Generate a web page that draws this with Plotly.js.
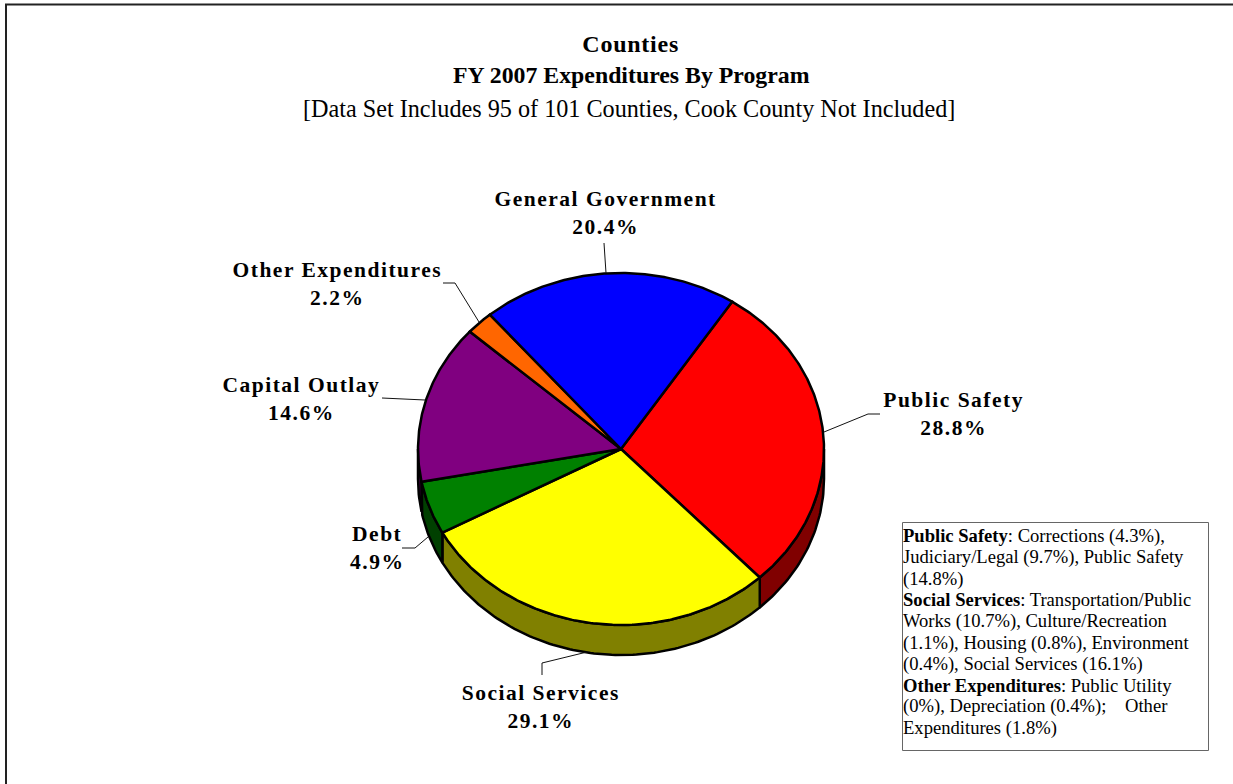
<!DOCTYPE html>
<html><head><meta charset="utf-8">
<script src="https://cdn.plot.ly/plotly-3.0.1.min.js"></script>
<style>
html,body{margin:0;padding:0;background:#fff;overflow:hidden}
g.annotation[data-index="0"] text,g.annotation[data-index="1"] text,g.annotation[data-index="2"] text,
g.annotation[data-index="3"] text,g.annotation[data-index="4"] text,g.annotation[data-index="5"] text{letter-spacing:1.5px}
.gtitle{letter-spacing:.75px}
</style></head><body>
<div id="chart" style="width:1233px;height:784px"></div>
<script>
const categories=["Public Safety","Social Services","Debt","Capital Outlay","Other Expenditures","General Government"];
const values=[28.8,29.1,4.9,14.6,2.2,20.4];
const topColors=["#ff0000","#ffff00","#008000","#800080","#ff6600","#0000ff"];
const sideColors=["#800000","#808000","#004000","#400040","#803300","#000080"];
const startAngle=33.2;
const cx=621,cy=449,rx=203,ry=176,depth=30;
const labelX=[953.5,541,377,301,337.5,605.5];
const labelY=[413.5,706.5,548,398.5,284,213];
const leaderX=[[824,868,880],[587,542,542],[428,415,402],[425,393,382],[479,455,443],[606,604]];
const leaderY=[[432,414,414],[652,663,675],[537,548,548],[400,398,398],[322,283,283],[273,243]];
const noteLines=[
"<b>Public Safety</b>: Corrections (4.3%),","Judiciary/Legal (9.7%), Public Safety","(14.8%)",
"<b>Social Services</b>: Transportation/Public","Works (10.7%), Culture/Recreation","(1.1%), Housing (0.8%), Environment","(0.4%), Social Services (16.1%)",
"<b>Other Expenditures</b>: Public Utility","(0%), Depreciation (0.4%);\u00a0\u00a0\u00a0\u00a0Other","Expenditures (1.8%)"];

function px(a){return cx+rx*Math.sin(a*Math.PI/180)}
function py(a){return cy-ry*Math.cos(a*Math.PI/180)}
const total=values.reduce((s,v)=>s+v,0);
const traces=[];
const outline={color:"#000",width:2.5};
let a=startAngle;
const spans=values.map(v=>{const s=[a,a+v/total*360];a=s[1];return s;});
// side wall: only the part of the rim between 90 and 270 degrees faces the viewer
spans.forEach((s,i)=>{
  [[s[0],s[1]],[s[0]-360,s[1]-360]].forEach(r=>{
    const lo=Math.max(r[0],90),hi=Math.min(r[1],270);
    if(hi<=lo)return;
    const xs=[],ys=[];
    for(let t=lo;t<hi;t+=1){xs.push(px(t));ys.push(py(t));}
    xs.push(px(hi));ys.push(py(hi));
    for(let t=hi;t>lo;t-=1){xs.push(px(t));ys.push(py(t)+depth);}
    xs.push(px(lo),px(lo));ys.push(py(lo)+depth,py(lo));
    traces.push({type:"scatter",mode:"lines",x:xs,y:ys,fill:"toself",fillcolor:sideColors[i],line:outline,hoverinfo:"skip",showlegend:false});
  });
});
spans.forEach((s,i)=>{
  const xs=[cx],ys=[cy];
  for(let t=s[0];t<s[1];t+=0.5){xs.push(px(t));ys.push(py(t));}
  xs.push(px(s[1]),cx);ys.push(py(s[1]),cy);
  traces.push({type:"scatter",mode:"lines",x:xs,y:ys,fill:"toself",fillcolor:topColors[i],line:outline,name:categories[i],hoverinfo:"name",showlegend:false});
});
leaderX.forEach((lx,i)=>traces.push({type:"scatter",mode:"lines",x:lx,y:leaderY[i],line:{color:"#111",width:1},hoverinfo:"skip",showlegend:false}));

const serif="'Liberation Serif','Times New Roman',serif";
const annotations=categories.map((c,i)=>({
  x:labelX[i],y:labelY[i],xref:"x",yref:"y",xanchor:"center",yanchor:"middle",showarrow:false,
  align:"center",text:"<b>"+c+"</b><br><b>"+values[i].toFixed(1)+"%</b>",font:{family:serif,size:21.5,color:"#000"}
}));
annotations.push(
 {x:631.5,y:75,xref:"x",yref:"y",showarrow:false,xanchor:"center",yanchor:"middle",text:"<b>FY 2007 Expenditures By Program</b>",font:{family:serif,size:23.8,color:"#000"}},
 {x:629,y:108,xref:"x",yref:"y",showarrow:false,xanchor:"center",yanchor:"middle",text:"[Data Set Includes 95 of 101 Counties, Cook County Not Included]",font:{family:serif,size:24.2,color:"#000"}}
);
noteLines.forEach((t,i)=>annotations.push({x:902,y:536+i*21.3,xref:"x",yref:"y",showarrow:false,xanchor:"left",yanchor:"middle",align:"left",borderpad:0,
  text:t,font:{family:serif,size:18.6,color:"#000"}}));
const layout={
 width:1233,height:784,margin:{l:0,r:0,t:0,b:0},paper_bgcolor:"#fff",plot_bgcolor:"#fff",
 title:{text:"<b>Counties</b>",x:0.5115,xanchor:"center",y:0.945,yanchor:"middle",font:{family:serif,size:24,color:"#000"}},
 xaxis:{range:[0,1233],visible:false,fixedrange:true},
 yaxis:{range:[784,0],visible:false,fixedrange:true},
 showlegend:false,annotations,
 shapes:[
  {type:"path",xref:"x",yref:"y",path:"M6,784 L6,4.5 L1233,4.5",line:{color:"#222",width:2}},
  {type:"rect",xref:"x",yref:"y",x0:902.5,x1:1208.5,y0:522.5,y1:750.5,line:{color:"#666",width:1}}
 ]
};
Plotly.newPlot("chart",traces,layout,{displayModeBar:false});
</script></body></html>
